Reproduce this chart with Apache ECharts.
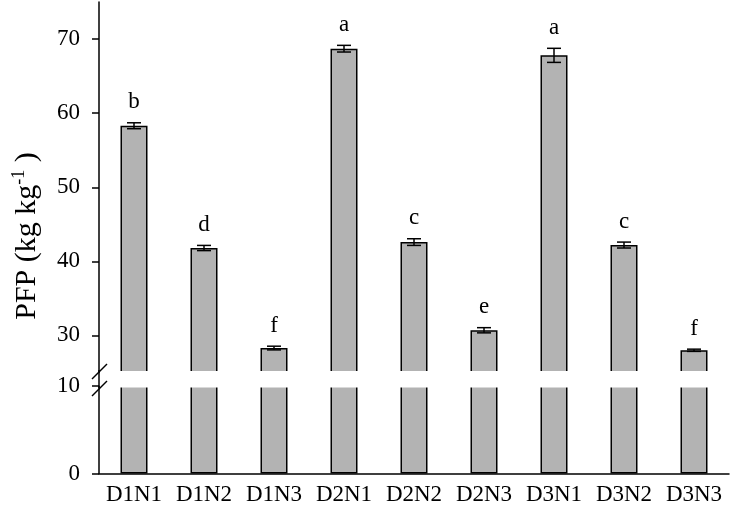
<!DOCTYPE html>
<html>
<head>
<meta charset="utf-8">
<script src="https://cdn.jsdelivr.net/npm/echarts@6/dist/echarts.min.js"></script>
<style>
  html, body { margin: 0; padding: 0; background: #fff; }
  #chart { width: 731px; height: 513px; }
</style>
</head>
<body>
<div id="chart"></div>
<script>
var categories = ['D1N1', 'D1N2', 'D1N3', 'D2N1', 'D2N2', 'D2N3', 'D3N1', 'D3N2', 'D3N3']
var pfpMeans = [58.3, 41.8, 28.3, 68.7, 42.6, 30.7, 67.8, 42.2, 28.0]
var pfpErrors = [0.4, 0.35, 0.25, 0.45, 0.45, 0.35, 0.95, 0.4, 0.15]
var sigLetters = ['b', 'd', 'f', 'a', 'c', 'e', 'a', 'c', 'f']
var upperTicks = [30, 40, 50, 60, 70]
var lowerTicks = [0, 10]

var serif = 'Liberation Serif'
var black = '#000'
var barGray = '#b3b3b3'

var chart = echarts.init(document.getElementById('chart'))

var axisLineStyle = { show: true, lineStyle: { color: black, width: 1.5 } }
var labelStyle = { color: black, fontFamily: serif, fontSize: 23 }

function errorBars(params, api) {
  var i = api.value(0)
  var m = api.value(1)
  var e = api.value(2)
  var hi = api.coord([i, m + e])
  var lo = api.coord([i, m - e])
  var hw = 7
  var st = { stroke: black, lineWidth: 1.5 }
  return {
    type: 'group',
    children: [
      { type: 'line', shape: { x1: hi[0], y1: hi[1], x2: lo[0], y2: lo[1] }, style: st },
      { type: 'line', shape: { x1: hi[0] - hw, y1: hi[1], x2: hi[0] + hw, y2: hi[1] }, style: st },
      { type: 'line', shape: { x1: lo[0] - hw, y1: lo[1], x2: lo[0] + hw, y2: lo[1] }, style: st },
      {
        type: 'text', x: hi[0], y: hi[1] - 9,
        style: {
          text: sigLetters[params.dataIndex], fill: black, fontFamily: serif,
          fontSize: 23, align: 'center', verticalAlign: 'bottom'
        }
      }
    ]
  }
}

var option = {
  animation: false,
  grid: [
    { left: 99, top: 2, width: 630, height: 370.5 },
    { left: 99, top: 386.2, width: 630, height: 87.3 }
  ],
  xAxis: [
    {
      gridIndex: 0, type: 'category', data: categories,
      axisLine: { show: false }, axisTick: { show: false },
      axisLabel: { show: false }, splitLine: { show: false }
    },
    {
      gridIndex: 1, type: 'category', data: categories,
      axisLine: axisLineStyle,
      axisTick: { alignWithLabel: true, length: 6, lineStyle: { color: black, width: 1.5 } },
      axisLabel: Object.assign({ margin: 10, interval: 0 }, labelStyle),
      splitLine: { show: false }
    }
  ],
  yAxis: [
    {
      gridIndex: 0, type: 'value', min: 25, max: 75,
      axisLine: axisLineStyle,
      axisTick: { show: true, length: 7, customValues: upperTicks, lineStyle: { color: black, width: 1.5 } },
      axisLabel: Object.assign({ margin: 19, customValues: upperTicks }, labelStyle),
      splitLine: { show: false }
    },
    {
      gridIndex: 1, type: 'value', min: 0, max: 10, interval: 10,
      axisLine: axisLineStyle,
      axisTick: { show: true, length: 7, customValues: lowerTicks, lineStyle: { color: black, width: 1.5 } },
      axisLabel: Object.assign({ margin: 19, customValues: lowerTicks }, labelStyle),
      splitLine: { show: false }
    }
  ],
  series: [
    {
      type: 'bar', xAxisIndex: 0, yAxisIndex: 0, data: pfpMeans, barWidth: 27,
      itemStyle: { color: barGray, borderColor: black, borderWidth: 1.5 }
    },
    {
      type: 'bar', xAxisIndex: 1, yAxisIndex: 1, data: pfpMeans, barWidth: 27,
      itemStyle: { color: barGray, borderColor: black, borderWidth: 1.5 }
    },
    {
      type: 'custom', xAxisIndex: 0, yAxisIndex: 0,
      data: pfpMeans.map(function (m, i) { return [i, m, pfpErrors[i]] }),
      encode: { x: 0, y: 1 },
      renderItem: errorBars,
      z: 5
    }
  ],
  graphic: [
    // white band hiding the clipped bar edges at the break
    { type: 'rect', z: 100, shape: { x: 100, y: 371, width: 631, height: 16.5 }, style: { fill: '#fff' } },
    // axis line through the break
    { type: 'line', z: 101, shape: { x1: 99, y1: 370, x2: 99, y2: 388 }, style: { stroke: black, lineWidth: 1.5 } },
    // break marks
    { type: 'line', z: 101, shape: { x1: 92, y1: 379, x2: 107, y2: 364 }, style: { stroke: black, lineWidth: 1.5 } },
    { type: 'line', z: 101, shape: { x1: 92, y1: 396, x2: 107, y2: 381 }, style: { stroke: black, lineWidth: 1.5 } },
    {
      type: 'text', x: 27, y: 236, rotation: Math.PI / 2,
      style: {
        text: '{a|PFP (kg kg}{s|-1}{a| )}',
        align: 'center', verticalAlign: 'middle',
        rich: {
          a: { fontFamily: serif, fontSize: 30, fill: black, lineHeight: 34 },
          s: { fontFamily: serif, fontSize: 18, fill: black, lineHeight: 34, verticalAlign: 'top', padding: [0, 0, 14, 0] }
        }
      }
    }
  ]
}

chart.setOption(option)
</script>
</body>
</html>
